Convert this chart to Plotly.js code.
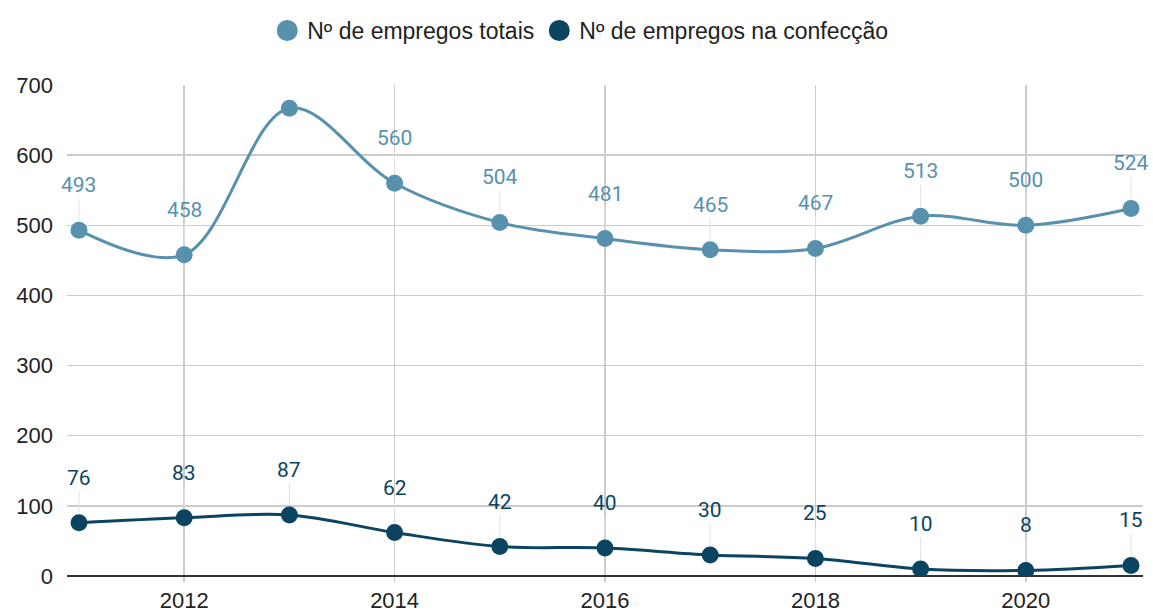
<!DOCTYPE html>
<html><head><meta charset="utf-8">
<script src="https://cdn.plot.ly/plotly-3.0.1.min.js"></script>
<style>html,body{margin:0;padding:0;background:#fff}#chart{width:1153px;height:616px}</style>
</head><body><div id="chart"></div>
<script>
const years = [2011, 2012, 2013, 2014, 2015, 2016, 2017, 2018, 2019, 2020, 2021];
const totais = [493, 458, 667, 560, 504, 481, 465, 467, 513, 500, 524];
const confeccao = [76, 83, 87, 62, 42, 40, 30, 25, 10, 8, 15];
const nameTotais = 'Nº de empregos totais';
const nameConf = 'Nº de empregos na confecção';
const hiddenTotaisLabels = [2013];
const xTicks = [2012, 2014, 2016, 2018, 2020];
const yTicks = [0, 100, 200, 300, 400, 500, 600, 700];

const cLight = '#5891ad';
const cDark = '#0b4461';
const labelFont = 'Roboto, Arial, sans-serif';
const axisFont = '"Liberation Sans", Arial, sans-serif';

function lineTrace(y, name, color) {
  return {x: years, y: y, name: name, mode: 'lines+markers', type: 'scatter',
    line: {color: color, width: 3, shape: 'spline', smoothing: 1},
    marker: {color: color, size: 17}, showlegend: false, hoverinfo: 'x+y'};
}
function legendTrace(name, color) {
  return {x: [null], y: [null], name: name, mode: 'markers', type: 'scatter',
    marker: {color: color, size: 20, line: {color: color, width: 5}}, showlegend: true};
}
const data = [
  lineTrace(totais, nameTotais, cLight),
  lineTrace(confeccao, nameConf, cDark),
  legendTrace(nameTotais, cLight),
  legendTrace(nameConf, cDark)
];

const annotations = [];
function addLabels(y, color, hidden) {
  years.forEach((yr, i) => {
    if (hidden && hidden.includes(yr)) return;
    annotations.push({x: yr, y: y[i], xref: 'x', yref: 'y', text: String(y[i]),
      showarrow: true, arrowhead: 0, arrowwidth: 1, arrowcolor: '#e2e2e2',
      ax: 0, ay: -45, standoff: 9, startstandoff: 0,
      font: {family: labelFont, size: 21, color: color}});
  });
}
addLabels(totais, cLight, hiddenTotaisLabels);
addLabels(confeccao, cDark, []);

const layout = {
  width: 1153, height: 616,
  margin: {l: 67, r: 10, t: 84, b: 40},
  paper_bgcolor: '#fff', plot_bgcolor: '#fff',
  font: {family: axisFont, size: 22, color: '#222'},
  showlegend: true,
  legend: {orientation: 'h', x: 0.477, xanchor: 'center', xref: 'paper',
    y: 1.065, yanchor: 'bottom', yref: 'paper',
    font: {family: axisFont, size: 23, color: '#222'},
    traceorder: 'normal', itemwidth: 30},
  xaxis: {range: [2010.886, 2021.114], tickvals: xTicks, ticktext: xTicks.map(String),
    showgrid: true, gridcolor: '#cccccc', gridwidth: 1.5, zeroline: false,
    ticks: 'outside', ticklen: 5, tickcolor: '#cccccc', tickwidth: 1.5,
    showline: false, tickfont: {family: axisFont, size: 22, color: '#222'}, fixedrange: true},
  yaxis: {range: [0, 700], tickvals: yTicks, ticktext: yTicks.map(String),
    showgrid: true, gridcolor: '#cccccc', gridwidth: 1.5,
    zeroline: true, zerolinecolor: '#333333', zerolinewidth: 2,
    ticks: '', ticklabelstandoff: 13, showline: false,
    tickfont: {family: axisFont, size: 22, color: '#222'}, fixedrange: true},
  annotations: annotations
};
Plotly.newPlot('chart', data, layout, {displayModeBar: false, staticPlot: true});
</script></body></html>
